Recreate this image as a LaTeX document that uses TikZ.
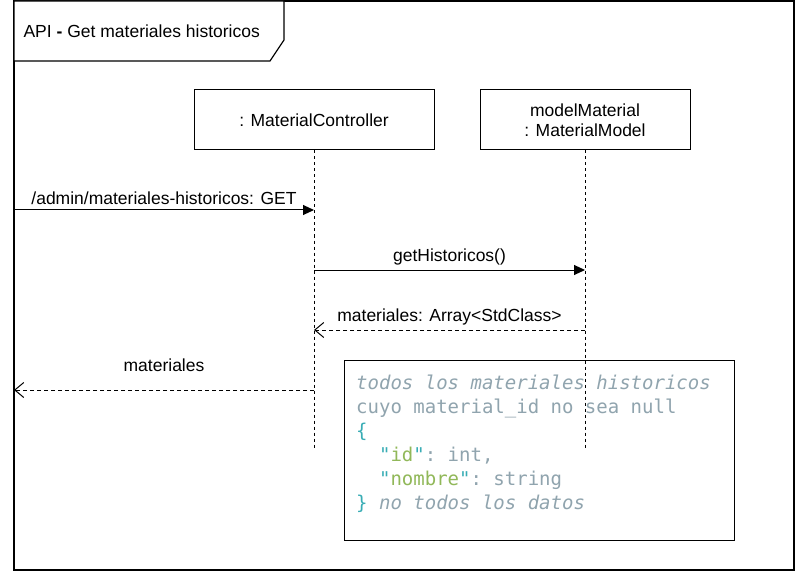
\documentclass[tikz,border=0pt]{standalone}
\usepackage{fontspec}
\setmainfont{Liberation Sans}
\setmonofont{DejaVu Sans Mono}
\usetikzlibrary{arrows.meta, positioning}
\definecolor{commentColor}{HTML}{90A4AE}
\definecolor{braceColor}{HTML}{39ADB5}
\definecolor{keyColor}{HTML}{91B859}

\tikzset{
    lifebox/.style={draw, line width=1pt, minimum width=240pt, minimum height=60pt,
        align=center, font=\fontsize{17.5}{20}\selectfont},
    lifeline/.style={line width=1pt, dash pattern=on 3pt off 3pt},
    callmsg/.style={line width=1pt, -{Triangle[length=11pt,width=10pt]}},
    replymsg/.style={line width=1pt, dash pattern=on 4pt off 3pt, -{Straight Barb[length=9pt,width=15pt]}},
    msglabel/.style={font=\fontsize{17.5}{20}\selectfont, above=1pt}
}

\begin{document}
\begin{tikzpicture}[x=1pt, y=-1pt]
    \useasboundingbox (0,0) rectangle (795,572);

    % frame and title tab
    \draw[line width=1.2pt] (14,1) rectangle (794,570);
    \draw[line width=1.2pt, fill=white] (14,1) -- (284,1) -- (284,40) -- (270,61) -- (14,61) -- cycle;
    \node[anchor=west, font=\fontsize{17.5}{20}\selectfont] (title) at (20,31)
        {API \textbf{-} Get materiales historicos};

    % participants
    \node[lifebox] (ctrl) at (314,120) {: MaterialController};
    \node[lifebox, minimum width=210pt, right=45pt of ctrl] (model)
        {modelMaterial\\: MaterialModel};

    % note
    \node[draw, line width=1pt, fill=white, minimum width=390pt, minimum height=180pt,
        anchor=north west] (note) at (344,360) {};
    \node[anchor=north west, align=left, inner sep=0pt, text=commentColor,
        font=\ttfamily\fontsize{19}{24}\selectfont] (code) at (356,375)
        {\textit{todos los materiales historicos}\\
         cuyo material\_id no sea null\\
         \textcolor{braceColor}{\{}\\
         \ \ \textcolor{braceColor}{"}\textcolor{keyColor}{id}\textcolor{braceColor}{"}: int,\\
         \ \ \textcolor{braceColor}{"}\textcolor{keyColor}{nombre}\textcolor{braceColor}{"}: string\\
         \textcolor{braceColor}{\}} \textit{no todos los datos}};

    % lifelines
    \coordinate (ctrlEnd) at (ctrl.south |- 0,450);
    \coordinate (modelEnd) at (model.south |- 0,450);
    \draw[lifeline] (ctrl.south) -- (ctrlEnd);
    \draw[lifeline] (model.south) -- (modelEnd);

    % messages
    \coordinate (client1) at (14,210);
    \coordinate (ctrl1) at (ctrl.south |- 0,210);
    \coordinate (ctrl2) at (ctrl.south |- 0,270);
    \coordinate (model2) at (model.south |- 0,270);
    \coordinate (model3) at (model.south |- 0,330);
    \coordinate (ctrl3) at (ctrl.south |- 0,330);
    \coordinate (ctrl4) at (ctrl.south |- 0,390);
    \coordinate (client4) at (14,390);

    \draw[callmsg] (client1) -- node[msglabel] {/admin/materiales-historicos: GET} (ctrl1);
    \draw[callmsg] (ctrl2) -- node[msglabel] {getHistoricos()} (model2);
    \draw[replymsg] (model3) -- node[msglabel] {materiales: Array<StdClass>} (ctrl3);
    \draw[replymsg] (ctrl4) -- node[msglabel, above=14pt] {materiales} (client4);
\end{tikzpicture}
\end{document}
